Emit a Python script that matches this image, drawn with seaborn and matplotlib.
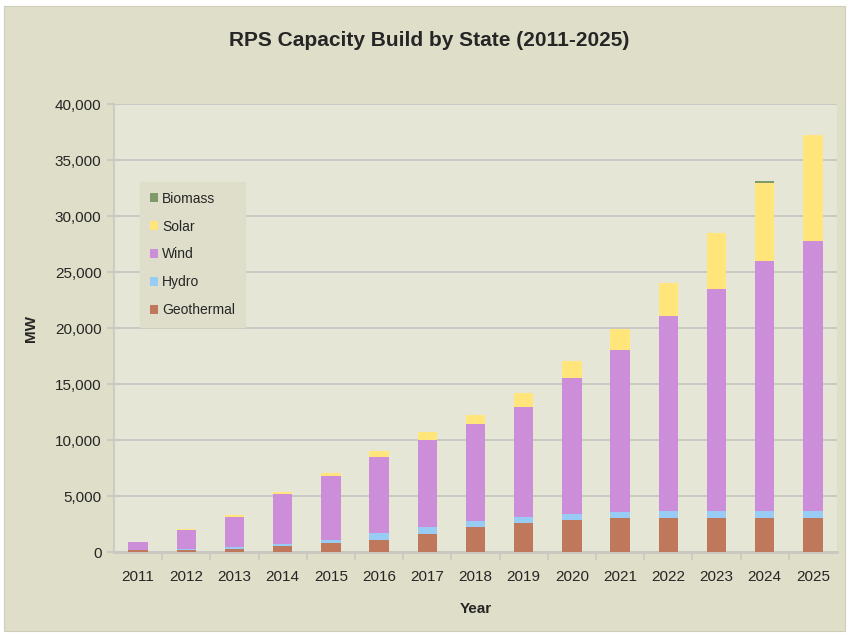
import pandas as pd
import matplotlib.pyplot as plt
import seaborn as sns
from matplotlib.patches import Rectangle, Patch

# Datos (MW)
years = ["2011", "2012", "2013", "2014", "2015", "2016", "2017", "2018",
         "2019", "2020", "2021", "2022", "2023", "2024", "2025"]
geothermal = [200, 200, 290, 560, 830, 1100, 1630, 2260, 2620, 2880, 3060, 3060, 3060, 3060, 3060]
hydro = [0, 70, 180, 180, 270, 620, 630, 540, 530, 540, 540, 630, 630, 630, 630]
wind = [720, 1720, 2680, 4460, 5710, 6790, 7770, 8660, 9820, 12140, 14460, 17410, 19820, 22320, 24110]
solar = [0, 20, 180, 180, 270, 530, 710, 800, 1250, 1520, 1850, 2920, 4970, 6960, 9400]
biomass = [0, 0, 0, 0, 0, 0, 0, 0, 0, 0, 0, 0, 0, 180, 0]

series = ["Geothermal", "Hydro", "Wind", "Solar", "Biomass"]
colors = {"Geothermal": "#C0785C", "Hydro": "#99CCF5", "Wind": "#CC8ED8",
          "Solar": "#FFE57A", "Biomass": "#7F9A6A"}

df = pd.DataFrame({"year": years, "Geothermal": geothermal, "Hydro": hydro,
                   "Wind": wind, "Solar": solar, "Biomass": biomass})

sns.set_theme(style="white")
plt.rcParams["font.family"] = ["Liberation Sans", "DejaVu Sans"]

fig = plt.figure(figsize=(8.49, 6.35), dpi=100)
fig.patch.set_facecolor("white")
fig.patches.append(Rectangle((4 / 849, 4 / 635), 841 / 849, 625 / 635,
                             transform=fig.transFigure, facecolor="#DFDEC8",
                             edgecolor="#CFCEB8", linewidth=0.8, zorder=-10))

ax = fig.add_axes([114 / 849, 1 - 552 / 635, 723 / 849, 448 / 635])
ax.set_facecolor("#E6E6D6")

bottom = pd.Series([0] * len(years), dtype=float)
for s in series:
    sns.barplot(data=df, x="year", y=s, color=colors[s], bottom=bottom.values,
                width=0.4, saturation=1, ax=ax, linewidth=0, zorder=3)
    bottom = bottom + df[s]

ax.set_ylim(0, 40000)
ax.set_xlim(-0.5, len(years) - 0.5)
ax.set_yticks(range(0, 40001, 5000))
ax.set_yticklabels([f"{v:,}" for v in range(0, 40001, 5000)])
ax.grid(True, axis="y", color="#C4C4C0", linewidth=1.2, zorder=0)
ax.set_axisbelow(True)

for side in ["top", "right"]:
    ax.spines[side].set_visible(False)
ax.spines["left"].set_color("#C8C8C0")
ax.spines["bottom"].set_color("#C8C8C0")
ax.spines["left"].set_linewidth(1.2)
ax.spines["bottom"].set_linewidth(2)

ax.tick_params(axis="y", length=5, color="#C8C8C0", labelsize=11, pad=4, left=True)
ax.tick_params(axis="x", length=0, labelsize=11, pad=13)
# marcas del eje x entre categorías
ax.set_xticks([i - 0.5 for i in range(1, len(years))], minor=True)
ax.tick_params(axis="x", which="minor", length=6, color="#C8C8C0", width=1.2, bottom=True)

ax.set_xlabel("Year", fontsize=11, fontweight="bold", labelpad=13)
ax.set_ylabel("MW", fontsize=11, fontweight="bold", labelpad=12)
fig.text(0.505, 1 - 40 / 635, "RPS Capacity Build by State (2011-2025)",
         ha="center", va="center", fontsize=15, fontweight="bold")

handles = [Patch(facecolor=colors[s], edgecolor="none") for s in reversed(series)]
leg = ax.legend(handles, list(reversed(series)), loc="upper left",
                bbox_to_anchor=(26 / 723, 1 - 78 / 448), borderaxespad=0,
                frameon=True, fontsize=10, handlelength=0.6, handleheight=0.6,
                handletextpad=0.3, labelspacing=1.0, borderpad=0.7, fancybox=False)
leg.get_frame().set_facecolor("#DEDECA")
leg.get_frame().set_edgecolor("#DEDECA")
leg.get_frame().set_alpha(1)

fig.savefig("out.png", dpi=100)
